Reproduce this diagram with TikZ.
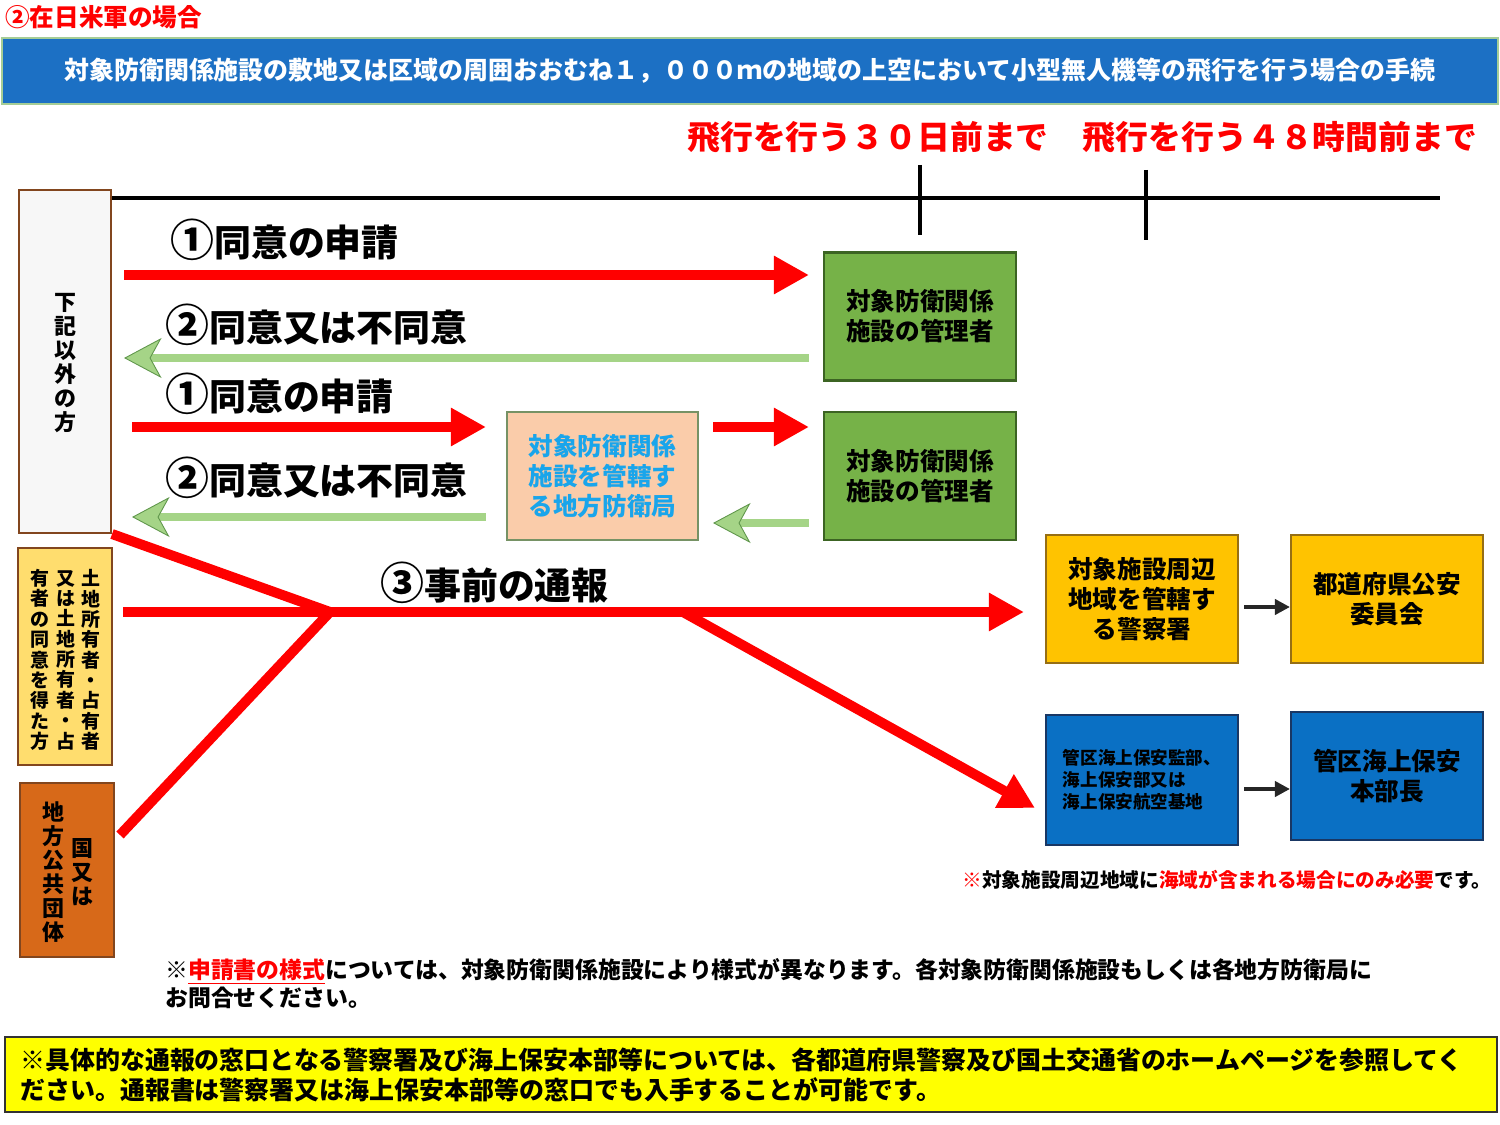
\documentclass[tikz,border=0pt]{standalone}
\usepackage{fontspec}
\setmainfont{Noto Sans CJK JP}
\usepackage{tikz}
\usetikzlibrary{arrows.meta,positioning,calc}

\definecolor{banner}{RGB}{28,112,196}
\definecolor{bannerline}{RGB}{165,205,150}
\definecolor{mgrgreen}{RGB}{118,178,72}
\definecolor{mgredge}{RGB}{60,100,35}
\definecolor{peach}{RGB}{250,204,170}
\definecolor{bureautxt}{RGB}{25,165,235}
\definecolor{gold}{RGB}{255,195,0}
\definecolor{goldedge}{RGB}{150,110,20}
\definecolor{seablue}{RGB}{10,112,196}
\definecolor{seaedge}{RGB}{25,55,100}
\definecolor{okgreen}{RGB}{165,212,135}
\definecolor{okedge}{RGB}{95,150,75}
\definecolor{brownedge}{RGB}{130,70,30}
\definecolor{ownerfill}{RGB}{255,221,110}
\definecolor{govfill}{RGB}{215,105,25}
\definecolor{notebox}{RGB}{255,255,0}

\newcommand{\bignum}[1]{{\fontsize{25}{24}\selectfont #1}}

\begin{document}
\begin{tikzpicture}[x=0.02cm,y=-0.02cm]
  \tikzstyle{box}=[rectangle,draw,line width=1.2pt,inner sep=0pt,minimum width=3.84cm,minimum height=2.56cm,align=center,font=\bfseries\fontsize{14}{17}\selectfont]
  \tikzstyle{mgr}=[box,fill=mgrgreen,draw=mgredge]
  \tikzstyle{police}=[box,fill=gold,draw=goldedge]
  \tikzstyle{sea}=[box,fill=seablue,draw=seaedge]
  \tikzstyle{side}=[rectangle,draw=brownedge,line width=1.2pt,inner sep=0pt,minimum width=1.84cm]
  \tikzstyle{vtext}=[align=center,inner sep=0pt,font=\bfseries\fontsize{12.5}{13.6}\selectfont]
  \tikzstyle{lbl}=[anchor=west,inner sep=0pt,font=\bfseries\fontsize{21}{24}\selectfont]
  \tikzstyle{redarrow}=[draw=red,line width=0.2cm,-{Triangle[length=0.7cm,width=0.72cm]}]
  \tikzstyle{redline}=[draw=red,line width=0.2cm]
  \tikzstyle{okarrow}=[draw=okgreen,line width=0.16cm,-{Stealth[length=0.75cm,width=0.8cm,inset=0.22cm,fill=okgreen,color=okedge,line width=0.5pt]}]
  \tikzstyle{blkarrow}=[draw=black!85,line width=0.08cm,-{Triangle[length=0.3cm,width=0.3cm]}]
  \useasboundingbox (0,0) rectangle (1500,1125);

  % header
  \node[anchor=west,inner sep=0pt,text=red,font=\bfseries\fontsize{14}{16}\selectfont] (title) at (5,17) {②在日米軍の場合};
  \node[rectangle,fill=banner,draw=bannerline,line width=1.5pt,minimum width=29.92cm,minimum height=1.32cm,text=white,font=\bfseries\fontsize{14.2}{16}\selectfont] (banner) at (750,71) {対象防衛関係施設の敷地又は区域の周囲おおむね１，０００ｍの地域の上空において小型無人機等の飛行を行う場合の手続};

  % timeline
  \coordinate (tlS) at (110,198);
  \coordinate (tlE) at (1440,198);
  \coordinate (t30) at (920,198);
  \coordinate (t48) at (1146,198);
  \draw[line width=0.08cm] (tlS) -- (tlE);
  \draw[line width=0.08cm] ($(t30)+(0,-33)$) -- ($(t30)+(0,37)$);
  \draw[line width=0.08cm] ($(t48)+(0,-28)$) -- ($(t48)+(0,42)$);
  \node[text=red,font=\bfseries\fontsize{18.7}{20}\selectfont] (d30) at (868,137) {飛行を行う３０日前まで};
  \node[text=red,font=\bfseries\fontsize{18.7}{20}\selectfont] (h48) at (1280,137) {飛行を行う４８時間前まで};

  % applicants
  \node[side,minimum height=6.86cm,fill=white!97!black] (lft) at (65,361.5) {};
  \node[vtext] (lftT) at (65,363) {下\\記\\以\\外\\の\\方};

  \node[side,minimum width=1.88cm,minimum height=4.34cm,fill=ownerfill] (owner) at (65,656.5) {};
  \node[vtext,font=\bfseries\fontsize{10.8}{11.6}\selectfont] (ownerA) at (91,660) {土\\地\\所\\有\\者\\・\\占\\有\\者};
  \node[vtext,font=\bfseries\fontsize{10.8}{11.6}\selectfont] (ownerB) at (66,660) {又\\は\\土\\地\\所\\有\\者\\・\\占};
  \node[vtext,font=\bfseries\fontsize{10.8}{11.6}\selectfont] (ownerC) at (40,660) {有\\者\\の\\同\\意\\を\\得\\た\\方};

  \node[side,minimum width=1.88cm,minimum height=3.48cm,fill=govfill] (gov) at (67,870) {};
  \node[vtext] (govA) at (82,872) {国\\又\\は};
  \node[vtext] (govB) at (53,872) {地\\方\\公\\共\\団\\体};

  % destinations
  \node[mgr] (mgrA) at (920,316.5) {対象防衛関係\\施設の管理者};
  \node[mgr] (mgrB) at (920,476) {対象防衛関係\\施設の管理者};
  \node[box,fill=peach,draw=mgredge!70,text=bureautxt,minimum width=3.82cm] (bureau) at (602.5,476) {対象防衛関係\\施設を管轄す\\る地方防衛局};
  \node[police] (police) at (1142,599) {対象施設周辺\\地域を管轄す\\る警察署};
  \node[police] (psc) at (1387,599) {都道府県公安\\委員会};
  \node[sea,minimum height=2.6cm,align=left,font=\bfseries\fontsize{10}{12.5}\selectfont] (coast) at (1142,780) {管区海上保安監部、\\海上保安部又は\\海上保安航空基地};
  \node[sea] (hq) at (1387,776) {管区海上保安\\本部長};

  % consent
  \coordinate (r1) at (0,275);
  \coordinate (g1) at (0,358);
  \coordinate (r2) at (0,427);
  \coordinate (g2) at (0,517);
  \coordinate (g3) at (0,523);
  \draw[redarrow,shorten <=0.24cm,shorten >=0.28cm] (lft.east |- r1) -- (mgrA.west |- r1);
  \draw[okarrow,shorten <=0.28cm,shorten >=0.24cm] (mgrA.west |- g1) -- (lft.east |- g1);
  \draw[redarrow,shorten <=0.4cm,shorten >=0.4cm] (lft.east |- r2) -- (bureau.west |- r2);
  \draw[okarrow,shorten <=0.4cm,shorten >=0.4cm] (bureau.west |- g2) -- (lft.east |- g2);
  \draw[redarrow,shorten <=0.28cm,shorten >=0.28cm] (bureau.east |- r2) -- (mgrB.west |- r2);
  \draw[okarrow,shorten <=0.28cm,shorten >=0.28cm] (mgrB.west |- g3) -- (bureau.east |- g3);
  \node[lbl] (req1) at (170,240) {\bignum{①}同意の申請};
  \node[lbl] (ans1) at (165,325) {\bignum{②}同意又は不同意};
  \node[lbl] (req2) at (165,394) {\bignum{①}同意の申請};
  \node[lbl] (ans2) at (165,478) {\bignum{②}同意又は不同意};

  % notification
  \coordinate (r3) at (0,612);
  \coordinate (jn) at (330,612);
  \coordinate (br) at (683,612);
  \coordinate (govOut) at (120,835);
  \coordinate (seaIn) at (1035,808);
  \draw[redline] (lft.south east) -- (jn);
  \draw[redline] (govOut) -- (jn);
  \draw[redarrow,shorten <=0.2cm,shorten >=0.42cm] (owner.east |- r3) -- (police.west |- r3);
  \draw[redarrow] (br) -- (seaIn);
  \node[lbl] (notice) at (380,583) {\bignum{③}事前の通報};
  \draw[blkarrow] ($(police.east)+(5,8)$) -- ($(psc.west)+(0,8)$);
  \draw[blkarrow] ($(coast.east)+(5,9)$) -- ($(hq.west)+(0,13)$);

  % notes
  \node[anchor=east,inner sep=0pt,font=\bfseries\fontsize{11.2}{13}\selectfont] (seaNote) at (1492,880) {\textcolor{red}{※}対象施設周辺地域に\textcolor{red}{海域が含まれる場合にのみ必要}です。};
  \node[anchor=west,align=left,inner sep=0pt,font=\bfseries\fontsize{13}{15.9}\selectfont] (formNote) at (165,984) {※\textcolor{red}{\underline{申請書の様式}}については、対象防衛関係施設により様式が異なります。各対象防衛関係施設もしくは各地方防衛局に\\お問合せください。};
  \node[rectangle,fill=notebox,draw=black!80,line width=1.5pt,minimum width=29.84cm,minimum height=1.5cm] (bottom) at (751,1074.5) {};
  \node[anchor=west,align=left,inner sep=0pt,font=\bfseries\fontsize{14.2}{17}\selectfont] (bottomT) at (20,1075) {※具体的な通報の窓口となる警察署及び海上保安本部等については、各都道府県警察及び国土交通省のホームページを参照してく\\ださい。通報書は警察署又は海上保安本部等の窓口でも入手することが可能です。};
\end{tikzpicture}
\end{document}
